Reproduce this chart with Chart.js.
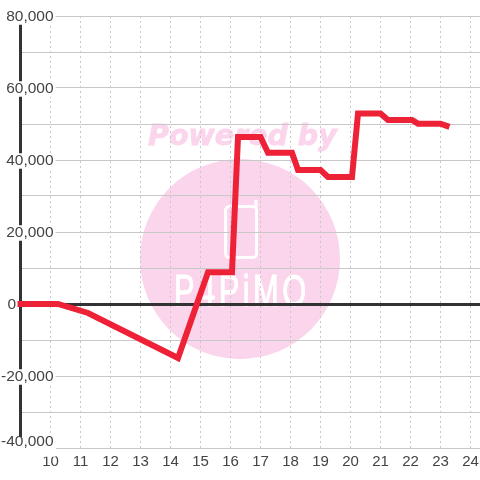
<!DOCTYPE html>
<html>
<head>
<meta charset="utf-8">
<style>
  html, body { margin: 0; padding: 0; background: #fff; }
  canvas { display: block; }
</style>
<script src="https://cdn.jsdelivr.net/npm/chart.js@4"></script>
</head>
<body>
<canvas id="chart" width="480" height="480"></canvas>
<script>
const hours = [8.9, 10.25, 11.25, 14.25, 15.25, 16.05, 16.25, 17, 17.25, 18.05, 18.25, 19, 19.25, 20.05, 20.25, 21, 21.25, 22.05, 22.25, 23, 23.3];
const values = [0, 0, -2500, -15000, 8800, 8800, 46400, 46400, 42000, 42000, 37200, 37200, 35300, 35300, 52900, 52900, 51100, 51100, 50100, 50100, 49200];
const xTicks = [10, 11, 12, 13, 14, 15, 16, 17, 18, 19, 20, 21, 22, 23, 24];
const labelFont = { family: '"Liberation Sans"', size: 15.5, lineHeight: 1 };

// watermark sits under the grid
const watermark = {
    id: 'watermark',
    beforeDraw(chart) {
        const ctx = chart.ctx;
        ctx.save();
        ctx.fillStyle = '#fbd5ec';
        ctx.strokeStyle = '#fbd5ec';
        ctx.beginPath();
        ctx.arc(240, 259, 100, 0, Math.PI * 2);
        ctx.fill();

        ctx.font = 'italic bold 28.5px "DejaVu Sans"';
        ctx.textAlign = 'left';
        ctx.textBaseline = 'alphabetic';
        ctx.lineWidth = 0.8;
        ctx.fillText('Powered by', 148, 145);
        ctx.strokeText('Powered by', 148, 145);

        ctx.strokeStyle = '#fff';
        ctx.lineWidth = 3;
        ctx.beginPath();
        ctx.roundRect(225.5, 206.5, 31, 51, 4);
        ctx.moveTo(256, 208);
        ctx.lineTo(256, 200);
        ctx.stroke();

        ctx.fillStyle = '#fff';
        ctx.font = '44px "Liberation Sans"';
        ctx.letterSpacing = '5px';
        ctx.lineWidth = 1;
        ctx.save();
        ctx.translate(174, 306);
        ctx.scale(0.7, 1);
        ctx.fillText('P4PiMO', 0, 0);
        ctx.strokeText('P4PiMO', 0, 0);
        ctx.restore();
        ctx.restore();
    }
};

new Chart(document.getElementById('chart'), {
    type: 'line',
    data: {
        datasets: [{
            data: hours.map((h, i) => ({ x: h, y: values[i] })),
            borderColor: '#ee2236',
            borderWidth: 6,
            pointRadius: 0,
            tension: 0,
            clip: false
        }]
    },
    plugins: [watermark],
    options: {
        responsive: false,
        animation: false,
        layout: { padding: { top: 16 } },
        plugins: { legend: { display: false }, tooltip: { enabled: false } },
        scales: {
            x: {
                type: 'linear',
                min: 8.9833,
                max: 24.3167,
                afterBuildTicks: scale => { scale.ticks = xTicks.map(v => ({ value: v })); },
                afterFit: scale => {
                    scale.height = 32;
                    scale.paddingLeft = 0;
                    scale.paddingRight = 0;
                },
                border: { display: false, dash: [2, 3] },
                grid: { color: '#c8c8c8', drawTicks: false, lineWidth: 1 },
                ticks: {
                    autoSkip: false,
                    maxRotation: 0,
                    padding: 5,
                    color: '#444',
                    font: { family: '"Liberation Sans"', size: 15 },
                    callback: v => String(v)
                }
            },
            y: {
                min: -40000,
                max: 80000,
                afterFit: scale => { scale.width = 20; },
                border: { display: true, color: '#333', width: 3 },
                grid: {
                    drawTicks: false,
                    color: c => (c.tick && c.tick.value === 0 ? '#333' : '#c8c8c8'),
                    lineWidth: c => (c.tick && c.tick.value === 0 ? 3 : 1)
                },
                ticks: {
                    stepSize: 10000,
                    autoSkip: false,
                    mirror: true,
                    crossAlign: 'far',
                    padding: -19,
                    labelOffset: 1,
                    color: '#444',
                    font: labelFont,
                    showLabelBackdrop: true,
                    backdropPadding: { top: 0, bottom: 0, left: 2, right: 2 },
                    backdropColor: c => (c.tick.value % 20000 === 0 && c.tick.value !== 0 ? '#fff' : 'rgba(0,0,0,0)'),
                    // 0 sits left of the axis, the -40,000 slot is only a blank mask
                    callback: v => {
                        if (v === 0) return '0' + '\u00a0'.repeat(8) + '\u2009';
                        if (v === -40000) return '\u00a0'.repeat(12);
                        return v % 20000 === 0 ? v.toLocaleString('en-US') : '';
                    }
                }
            },
            // extra scale only to lift the -40,000 label clear of the x labels
            yBottom: {
                type: 'linear',
                axis: 'y',
                position: 'left',
                min: -40000,
                max: 80000,
                afterBuildTicks: scale => { scale.ticks = [{ value: -38000 }]; },
                afterFit: scale => { scale.width = 0; },
                border: { display: false },
                grid: { display: false },
                ticks: {
                    autoSkip: false,
                    mirror: true,
                    crossAlign: 'far',
                    padding: 1,
                    labelOffset: 1,
                    z: 1,
                    color: '#444',
                    font: labelFont,
                    showLabelBackdrop: true,
                    backdropPadding: { top: -3, bottom: 0, left: 2, right: 2 },
                    backdropColor: '#fff',
                    callback: () => '-40,000'
                }
            }
        }
    }
});
</script>
</body>
</html>
